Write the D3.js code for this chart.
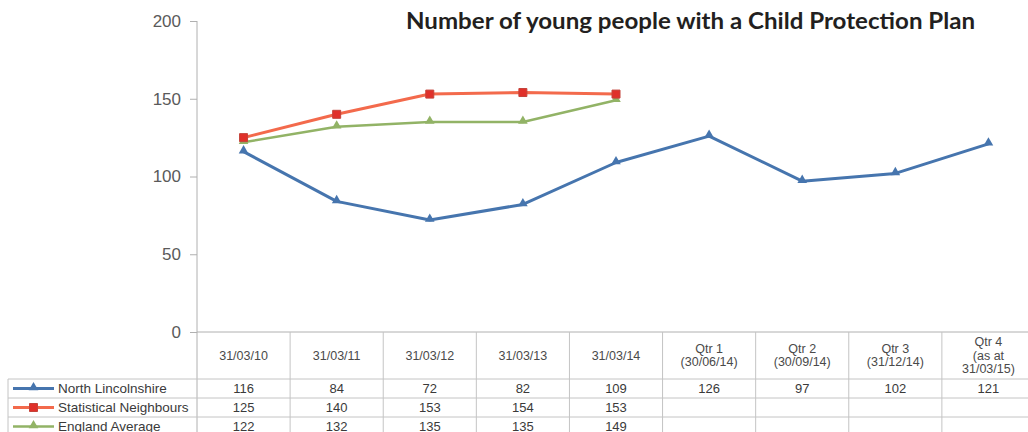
<!DOCTYPE html>
<html>
<head>
<meta charset="utf-8">
<script src="https://cdn.jsdelivr.net/npm/d3@7"></script>
<style>
  body { margin: 0; background: #fff; }
  svg { display: block; }
</style>
</head>
<body>
<svg id="chart" width="1028" height="432"></svg>
<script>
// column headers (some are split over lines)
var periods = ['31/03/10', '31/03/11', '31/03/12', '31/03/13', '31/03/14', 'Qtr 1', 'Qtr 2', 'Qtr 3', 'Qtr 4'];
var periodLines = [
  ['31/03/10'], ['31/03/11'], ['31/03/12'], ['31/03/13'], ['31/03/14'],
  ['Qtr 1', '(30/06/14)'], ['Qtr 2', '(30/09/14)'], ['Qtr 3', '(31/12/14)'],
  ['Qtr 4', '(as at', '31/03/15)']
];

var northLincs = [116, 84, 72, 82, 109, 126, 97, 102, 121];
var statNeighbours = [125, 140, 153, 154, 153];
var englandAvg = [122, 132, 135, 135, 149];

var yTicks = [0, 50, 100, 150, 200];

var series = [
  { name: 'North Lincolnshire', values: northLincs, color: '#4675ae', marker: 'triangle', width: 3 },
  { name: 'Statistical Neighbours', values: statNeighbours, color: '#f36a4c', marker: 'square', width: 3 },
  { name: 'England Average', values: englandAvg, color: '#92b366', marker: 'triangle', width: 2.5 }
];

var svg = d3.select('#chart');

// note: "top" is taken by window.top, so plotTop
var left = 197, right = 1035;
var plotTop = 21, base = 332;
var headH = 47, rowH = 19;
var legLeft = 8;
var gridColor = '#c4c4c4';

var x = d3.scaleBand().domain(periods).range([left, right]).padding(0);
var y = d3.scaleLinear().domain([0, 200]).range([base, plotTop]);
var cx = function(i) { return x(periods[i]) + x.bandwidth() / 2; };

// title
svg.append('text')
  .attr('x', 406)
  .attr('y', 29)
  .attr('font-family', 'Lato, "Open Sans", sans-serif')
  .attr('font-weight', 'bold')
  .attr('font-size', 22.5)
  .attr('fill', '#231f20')
  .attr('textLength', 569)
  .attr('lengthAdjust', 'spacingAndGlyphs')
  .text('Number of young people with a Child Protection Plan');

// y axis
var yAxis = d3.axisLeft(y).tickValues(yTicks).tickSize(7).tickPadding(9);
var ya = svg.append('g').attr('transform', 'translate(' + left + ',0)').call(yAxis);
ya.select('.domain').remove();
ya.selectAll('line').attr('stroke', '#b0b0b0');
ya.selectAll('text')
  .attr('font-family', '"Liberation Sans", Arial, sans-serif')
  .attr('font-size', 17)
  .attr('fill', '#5a5a5a');

// axis vertical line down through the table
svg.append('line')
  .attr('x1', left).attr('x2', left)
  .attr('y1', plotTop).attr('y2', 436)
  .attr('stroke', '#b0b0b0');

// table grid
var tableBottom = base + headH + rowH * series.length;
var g = svg.append('g').attr('stroke', gridColor).attr('stroke-width', 1);
g.append('line').attr('x1', left).attr('x2', right).attr('y1', base).attr('y2', base).attr('stroke', '#b0b0b0');
d3.range(series.length + 1).forEach(function(r) {
  var yy = base + headH + r * rowH;
  g.append('line').attr('x1', legLeft).attr('x2', right).attr('y1', yy).attr('y2', yy);
});
periods.forEach(function(p) {
  var xx = x(p) + x.bandwidth();
  g.append('line').attr('x1', xx).attr('x2', xx).attr('y1', base).attr('y2', tableBottom);
});
g.append('line').attr('x1', legLeft).attr('x2', legLeft).attr('y1', base + headH).attr('y2', tableBottom);

// header labels
var tf = '"Liberation Sans", Arial, sans-serif';
periodLines.forEach(function(lines, i) {
  var lh = 13.5;
  var mid = base + headH / 2 + 4;
  lines.forEach(function(s, k) {
    svg.append('text')
      .attr('x', cx(i))
      .attr('y', mid + (k - (lines.length - 1) / 2) * lh)
      .attr('text-anchor', 'middle')
      .attr('font-family', tf)
      .attr('font-size', 12.5)
      .attr('fill', '#4a4a4a')
      .text(s);
  });
});

var symTri = d3.symbol().type(d3.symbolTriangle).size(40);
var symSq = d3.symbol().type(d3.symbolSquare).size(64);

function drawMarker(sel, s, px, py) {
  if (s.marker == 'square') {
    sel.append('path').attr('d', symSq)
      .attr('transform', 'translate(' + px + ',' + py + ')')
      .attr('fill', '#e0302a').attr('stroke', '#c4433a').attr('stroke-width', 1);
  } else {
    sel.append('path').attr('d', symTri)
      .attr('transform', 'translate(' + px + ',' + (py - 1) + ')')
      .attr('fill', s.color);
  }
}

// lines and markers
var line = d3.line().x(function(d, i) { return cx(i); }).y(function(d) { return y(d); });
series.slice().reverse().forEach(function(s) {
  svg.append('path')
    .datum(s.values)
    .attr('d', line)
    .attr('fill', 'none')
    .attr('stroke', s.color)
    .attr('stroke-width', s.width)
    .attr('stroke-linejoin', 'round');
  var mg = svg.append('g');
  s.values.forEach(function(v, i) { drawMarker(mg, s, cx(i), y(v)); });
});

// table rows: legend + values
series.forEach(function(s, r) {
  var rowTop = base + headH + r * rowH;
  var ty = rowTop + 14;
  var my = rowTop + rowH / 2;
  svg.append('line')
    .attr('x1', 13).attr('x2', 54)
    .attr('y1', my).attr('y2', my)
    .attr('stroke', s.color).attr('stroke-width', s.width);
  drawMarker(svg, s, 33.5, my);
  svg.append('text')
    .attr('x', 58).attr('y', ty)
    .attr('font-family', tf).attr('font-size', 13.5)
    .attr('fill', '#3a3a3a')
    .text(s.name);
  s.values.forEach(function(v, i) {
    svg.append('text')
      .attr('x', cx(i)).attr('y', ty)
      .attr('text-anchor', 'middle')
      .attr('font-family', tf).attr('font-size', 13)
      .attr('fill', '#3a3a3a')
      .text(v);
  });
});
</script>
</body>
</html>
